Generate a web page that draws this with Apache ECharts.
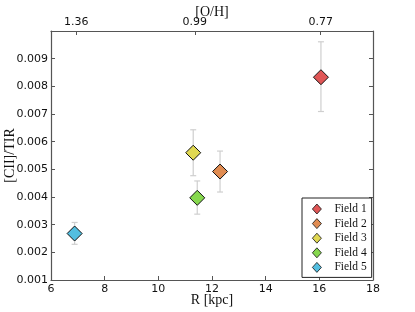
<!DOCTYPE html>
<html><head><meta charset="utf-8">
<script src="https://cdn.jsdelivr.net/npm/echarts@6/dist/echarts.min.js"></script>
<style>html,body{margin:0;padding:0;background:#fff}#c{width:415px;height:312px}</style>
</head><body><div id="c"></div>
<script>
const fields = ['Field 1','Field 2','Field 3','Field 4','Field 5'];
const colors = ['#e05656','#e08c52','#e0d852','#86d84e','#52bee0'];
const radius = [16.06, 12.3, 11.3, 11.45, 6.88];
const ratio = [0.00833, 0.00492, 0.00560, 0.00397, 0.00268];
const errLow = [0.00709, 0.00418, 0.00477, 0.00338, 0.00229];
const errHigh = [0.00961, 0.00566, 0.00643, 0.00458, 0.00308];
const ohPositions = [6.94, 11.36, 16.05];
const ohLabels = ['1.36', '0.99', '0.77'];

const serif = 'Liberation Serif';
const sans = 'DejaVu Sans';
const spine = '#555';

const chart = echarts.init(document.getElementById('c'));
const errData = radius.map((r,i)=>[r, errLow[i], errHigh[i]]);
const series = [{
  type:'custom', xAxisIndex:0, yAxisIndex:0, silent:true, z:1,
  data: errData,
  renderItem:function(params, api){
    const x = api.value(0);
    const lo = api.coord([x, api.value(1)]);
    const hi = api.coord([x, api.value(2)]);
    const cw = 3;
    const st = {stroke:'#cfcfcf', lineWidth:1.2};
    return {type:'group', children:[
      {type:'line', shape:{x1:lo[0],y1:lo[1],x2:hi[0],y2:hi[1]}, style:st},
      {type:'line', shape:{x1:lo[0]-cw,y1:lo[1],x2:lo[0]+cw,y2:lo[1]}, style:st},
      {type:'line', shape:{x1:hi[0]-cw,y1:hi[1],x2:hi[0]+cw,y2:hi[1]}, style:st}
    ]};
  }
}];
fields.forEach((f,i)=>{
  series.push({
    name:f, type:'scatter', xAxisIndex:0, yAxisIndex:0, z:3,
    symbol:'diamond', symbolSize:[15,15],
    itemStyle:{color:colors[i], borderColor:'#111', borderWidth:1, opacity:1},
    data:[[radius[i], ratio[i]]]
  });
});

chart.setOption({
  animation:false,
  grid:{left:51, right:42, top:31, bottom:32, containLabel:false, outerBoundsMode:'none'},
  legend:{
    data:fields, orient:'vertical', left:302, top:198,
    backgroundColor:'#fff', borderColor:'#222', borderWidth:1, borderRadius:0,
    padding:[5,5,4,10], itemGap:2.6, itemWidth:9, itemHeight:10,
    icon:'diamond',
    itemStyle:{borderColor:'#111', borderWidth:0.8},
    textStyle:{fontFamily:serif, fontSize:11.5, color:'#111', lineHeight:12, padding:[0,0,0,8]}
  },
  xAxis:[{
    type:'value', position:'bottom', min:6, max:18, interval:2,
    name:'R [kpc]', nameLocation:'middle', nameGap:13, nameMoveOverlap:false,
    nameTextStyle:{fontFamily:serif, fontSize:14, color:'#111'},
    axisLine:{show:true, onZero:false, lineStyle:{color:spine, width:1.2}},
    axisTick:{show:true, inside:true, length:4, lineStyle:{color:spine}},
    axisLabel:{fontFamily:sans, fontSize:11, color:'#111', margin:4},
    splitLine:{show:false}
  },{
    type:'value', position:'top', min:6, max:18,
    name:'[O/H]', nameLocation:'middle', nameGap:12, nameMoveOverlap:false,
    nameTextStyle:{fontFamily:serif, fontSize:14, color:'#111'},
    axisLine:{show:true, onZero:false, lineStyle:{color:spine, width:1.2}},
    axisTick:{show:true, inside:true, length:4, customValues:ohPositions, lineStyle:{color:spine}},
    axisLabel:{fontFamily:sans, fontSize:11, color:'#111', margin:3, customValues:ohPositions,
      formatter:function(v){const k=ohPositions.indexOf(v);return k>=0?ohLabels[k]:'';}},
    splitLine:{show:false}
  }],
  yAxis:[{
    type:'value', position:'left', min:0.001, max:0.01, interval:0.001,
    name:'[CII]/TIR', nameLocation:'middle', nameGap:34, nameRotate:90, nameMoveOverlap:false,
    nameTextStyle:{fontFamily:serif, fontSize:14, color:'#111'},
    axisLine:{show:true, onZero:false, lineStyle:{color:spine, width:1.2}},
    axisTick:{show:true, inside:true, length:4, lineStyle:{color:spine}},
    axisLabel:{fontFamily:sans, fontSize:11, color:'#111', margin:3,
      formatter:function(v){return v>0.00995?'':v.toFixed(3);}},
    splitLine:{show:false}
  },{
    type:'value', position:'right', min:0.001, max:0.01, interval:0.001,
    axisLine:{show:true, onZero:false, lineStyle:{color:spine, width:1.2}},
    axisTick:{show:true, inside:true, length:4, lineStyle:{color:spine}},
    axisLabel:{show:false}, splitLine:{show:false}
  }],
  series:series
});
</script></body></html>
